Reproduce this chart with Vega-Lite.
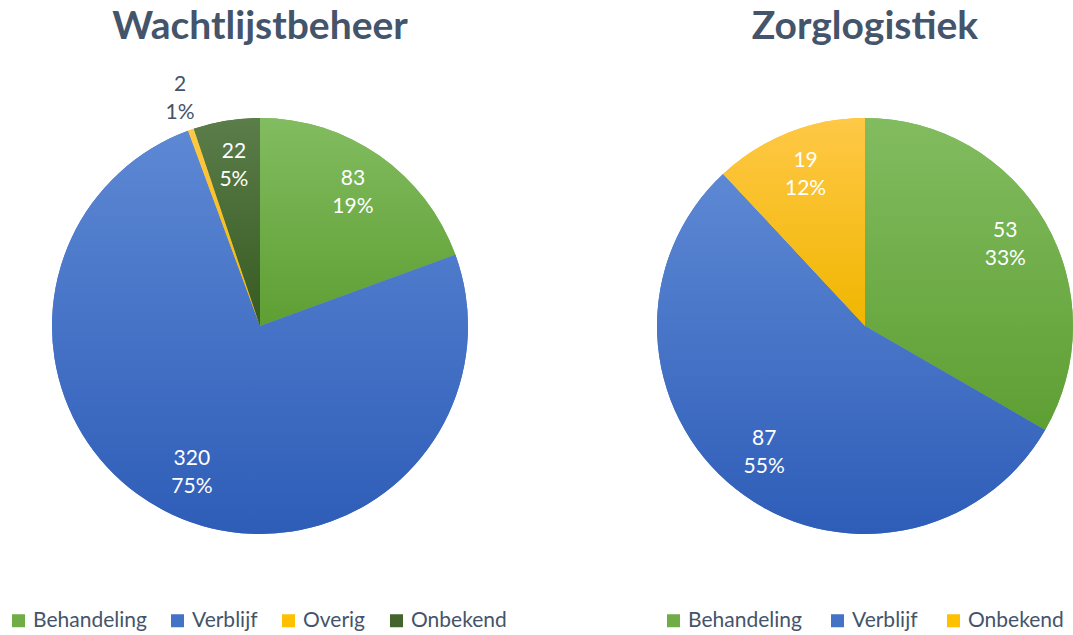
{
  "$schema": "https://vega.github.io/schema/vega-lite/v6.json",
  "padding": {"top": 8, "left": 0, "right": 0, "bottom": 0},
  "background": "white",
  "spacing": 137,
  "resolve": {"scale": {"color": "independent"}, "legend": {"color": "independent"}},
  "config": {
    "view": {"stroke": null},
    "title": {"fontSize": 39, "font": "Lato", "fontWeight": "bold", "color": "#44546A", "anchor": "middle", "offset": 9},
    "legend": {
      "orient": "none", "direction": "horizontal", "title": null,
      "symbolType": "square", "symbolSize": 169, "symbolStrokeWidth": 0,
      "labelFontSize": 21, "labelFont": "Lato", "labelColor": "#44546A",
      "columnPadding": 22, "labelOffset": 4
    }
  },
  "hconcat": [
    {
      "width": 520, "height": 540,
      "title": {"text": "Wachtlijstbeheer"},
      "data": {"values": [
        {"category": "Behandeling", "value": 83, "label": "83\n19%", "order": 1},
        {"category": "Verblijf", "value": 320, "label": "320\n75%", "order": 2},
        {"category": "Overig", "value": 2, "label": "2\n1%", "order": 3},
        {"category": "Onbekend", "value": 22, "label": "22\n5%", "order": 4}
      ]},
      "layer": [
        {
          "mark": {"type": "arc", "radius": 208},
          "encoding": {
            "theta": {"field": "value", "type": "quantitative", "stack": true},
            "order": {"field": "order", "type": "quantitative"},
            "color": {"field": "category", "type": "nominal",
              "scale": {"domain": ["Behandeling", "Verblijf", "Overig", "Onbekend"], "range": ["#70AD47", "#4472C4", "#FFC000", "#43652D"]},
              "legend": {"legendX": 8, "legendY": 554, "columnPadding": 20}}
          }
        },
        {
          "mark": {"type": "arc", "radius": 208},
          "encoding": {
            "theta": {"field": "value", "type": "quantitative", "stack": true},
            "order": {"field": "order", "type": "quantitative"},
            "detail": {"field": "category"},
            "fill": {
              "condition": [
                {"test": "datum.category === 'Behandeling'", "value": {"gradient": "linear", "x1": 0, "y1": 0, "x2": 0, "y2": 1, "stops": [{"offset": 0, "color": "#82BC60"}, {"offset": 1, "color": "#5E9F33"}]}},
                {"test": "datum.category === 'Verblijf'", "value": {"gradient": "linear", "x1": 0, "y1": 0, "x2": 0, "y2": 1, "stops": [{"offset": 0, "color": "#5D88D4"}, {"offset": 1, "color": "#2E5DB8"}]}},
                {"test": "datum.category === 'Overig'", "value": {"gradient": "linear", "x1": 0, "y1": 0, "x2": 0, "y2": 1, "stops": [{"offset": 0, "color": "#FFC846"}, {"offset": 1, "color": "#F0B600"}]}}
              ],
              "value": {"gradient": "linear", "x1": 0, "y1": 0, "x2": 0, "y2": 1, "stops": [{"offset": 0, "color": "#5B7D4A"}, {"offset": 1, "color": "#375A21"}]}
            }
          }
        },
        {
          "mark": {"type": "text", "radius": 162, "dy": -14, "fontSize": 21, "font": "Lato", "lineBreak": "\n", "lineHeight": 28, "fill": "white"},
          "encoding": {
            "theta": {"field": "value", "type": "quantitative", "stack": true},
            "order": {"field": "order", "type": "quantitative"},
            "detail": {"field": "category"},
            "text": {"condition": {"test": "datum.value > 5", "field": "label"}, "value": ""}
          }
        },
        {
          "mark": {"type": "text", "radius": 241, "dy": -14, "fontSize": 21, "font": "Lato", "lineBreak": "\n", "lineHeight": 28, "fill": "#44546A"},
          "encoding": {
            "theta": {"field": "value", "type": "quantitative", "stack": true},
            "order": {"field": "order", "type": "quantitative"},
            "detail": {"field": "category"},
            "text": {"condition": {"test": "datum.value <= 5", "field": "label"}, "value": ""}
          }
        }
      ]
    },
    {
      "width": 416, "height": 540,
      "title": {"text": "Zorglogistiek"},
      "data": {"values": [
        {"category": "Behandeling", "value": 53, "label": "53\n33%", "order": 1},
        {"category": "Verblijf", "value": 87, "label": "87\n55%", "order": 2},
        {"category": "Onbekend", "value": 19, "label": "19\n12%", "order": 3}
      ]},
      "layer": [
        {
          "mark": {"type": "arc", "radius": 208},
          "encoding": {
            "theta": {"field": "value", "type": "quantitative", "stack": true},
            "order": {"field": "order", "type": "quantitative"},
            "color": {"field": "category", "type": "nominal",
              "scale": {"domain": ["Behandeling", "Verblijf", "Onbekend"], "range": ["#70AD47", "#4472C4", "#FFC000"]},
              "legend": {"legendX": 6, "legendY": 554, "columnPadding": 25}}
          }
        },
        {
          "mark": {"type": "arc", "radius": 208},
          "encoding": {
            "theta": {"field": "value", "type": "quantitative", "stack": true},
            "order": {"field": "order", "type": "quantitative"},
            "detail": {"field": "category"},
            "fill": {
              "condition": [
                {"test": "datum.category === 'Behandeling'", "value": {"gradient": "linear", "x1": 0, "y1": 0, "x2": 0, "y2": 1, "stops": [{"offset": 0, "color": "#82BC60"}, {"offset": 1, "color": "#5E9F33"}]}},
                {"test": "datum.category === 'Verblijf'", "value": {"gradient": "linear", "x1": 0, "y1": 0, "x2": 0, "y2": 1, "stops": [{"offset": 0, "color": "#5D88D4"}, {"offset": 1, "color": "#2E5DB8"}]}}
              ],
              "value": {"gradient": "linear", "x1": 0, "y1": 0, "x2": 0, "y2": 1, "stops": [{"offset": 0, "color": "#FFC846"}, {"offset": 1, "color": "#F0B600"}]}
            }
          }
        },
        {
          "mark": {"type": "text", "radius": 162, "dy": -14, "fontSize": 21, "font": "Lato", "lineBreak": "\n", "lineHeight": 28, "fill": "white"},
          "encoding": {
            "theta": {"field": "value", "type": "quantitative", "stack": true},
            "order": {"field": "order", "type": "quantitative"},
            "detail": {"field": "category"},
            "text": {"field": "label"}
          }
        }
      ]
    }
  ]
}
